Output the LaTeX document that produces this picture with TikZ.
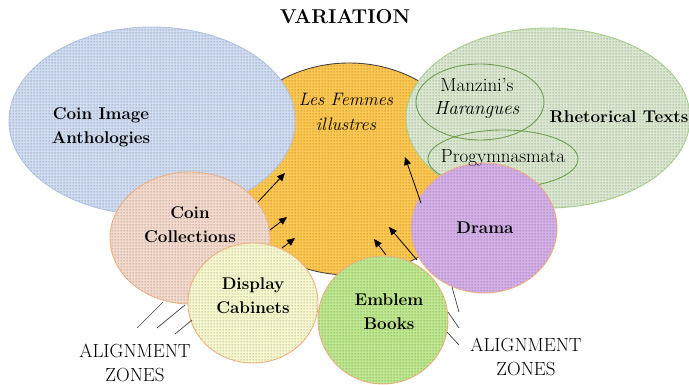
\documentclass[tikz,border=0pt]{standalone}
\usetikzlibrary{shapes.geometric,arrows.meta,patterns.meta}

% fine halftone screen laid over every bubble
\tikzdeclarepattern{
  name=halftone,
  type=uncolored,
  bottom left={(0pt,0pt)},
  top right={(3pt,3pt)},
  tile size={(3pt,3pt)},
  code={\fill (0.7pt,0.7pt) rectangle (2.1pt,2.1pt);}
}

\definecolor{blueF}{RGB}{208,220,242}
\definecolor{blueE}{RGB}{180,199,231}
\definecolor{orangeF}{RGB}{255,200,80}
\definecolor{greenF}{RGB}{218,232,208}
\definecolor{greenE}{RGB}{169,209,142}
\definecolor{innerE}{RGB}{112,160,80}
\definecolor{salmonF}{RGB}{244,218,204}
\definecolor{peachE}{RGB}{244,177,131}
\definecolor{creamF}{RGB}{248,248,206}
\definecolor{limeF}{RGB}{190,232,142}
\definecolor{lilacF}{RGB}{212,176,232}

\tikzset{
  bubble/.style 2 args={ellipse, inner sep=0pt, fill=#1, draw=#2, line width=0.9pt,
    postaction={pattern=halftone, pattern color=#1!68!black}},
  ring/.style={ellipse, inner sep=0pt, draw=innerE, line width=0.9pt},
  boldlbl/.style={align=center, font=\bfseries\fontsize{17}{24}\selectfont},
  plainlbl/.style={align=center, font=\fontsize{19}{24}\selectfont},
  feed/.style={-{Triangle[length=8pt,width=7pt]}, line width=0.8pt},
  tick/.style={line width=0.7pt, draw=black!75}
}

\begin{document}
\begin{tikzpicture}[x=1pt,y=-1pt]
\useasboundingbox (0,0) rectangle (689,385);

% central theme and the surrounding sources
\node[bubble={orangeF}{black!75}, minimum width=250pt, minimum height=212pt] (femmes) at (349,169) {};
\node[bubble={blueF}{blueE}, minimum width=286pt, minimum height=188pt] (anth) at (152,121) {};
\node[bubble={greenF}{greenE}, minimum width=284pt, minimum height=180pt] (rhet) at (548,118) {};
\node[ring, minimum width=128pt, minimum height=76pt] (manz) at (480,102) {};
\node[ring, minimum width=150pt, minimum height=58pt] (prog) at (503,159) {};
\node[bubble={salmonF}{peachE}, minimum width=160pt, minimum height=132pt] (coins) at (190,238) {};
\node[bubble={creamF}{peachE}, minimum width=130pt, minimum height=120pt] (cab) at (253,303) {};
\node[bubble={lilacF}{peachE}, minimum width=146pt, minimum height=130pt] (drama) at (484,228) {};
\node[bubble={limeF}{peachE}, minimum width=130pt, minimum height=128pt] (emb) at (383,320) {};

% labels
\node[font=\bfseries\fontsize{20}{24}\selectfont] (title) at (345,17) {VARIATION};
\node[boldlbl] (anthT) at (101,127) {Coin Image\\Anthologies};
\node[align=center, font=\itshape\fontsize{18}{25}\selectfont] (femmesT) at (346,112) {Les Femmes\\illustres};
\node[align=center, font=\fontsize{19}{23}\selectfont] (manzT) at (477,98) {Manzini's\\\textit{Harangues}};
\node[boldlbl] (rhetT) at (619,117) {Rhetorical Texts};
\node[plainlbl] (progT) at (503,158) {Progymnasmata};
\node[boldlbl] (coinsT) at (190,225) {Coin\\Collections};
\node[boldlbl] (cabT) at (253,296) {Display\\Cabinets};
\node[boldlbl] (dramaT) at (485,228) {Drama};
\node[boldlbl] (embT) at (389,312) {Emblem\\Books};
\node[plainlbl] (alignL) at (135,363) {ALIGNMENT\\ZONES};
\node[plainlbl] (alignR) at (526,357) {ALIGNMENT\\ZONES};

% arrow ends
\coordinate (a1s) at (258,202); \coordinate (a1e) at (285,173);
\coordinate (a2s) at (270,230); \coordinate (a2e) at (287,217);
\coordinate (a3s) at (282,248); \coordinate (a3e) at (295,238);
\coordinate (a4s) at (421,203); \coordinate (a4e) at (405,157);
\coordinate (a5s) at (417,260); \coordinate (a5e) at (389,227);
\coordinate (a6s) at (386,255); \coordinate (a6e) at (374,239);

\draw[feed] (a1s) -- (a1e);
\draw[feed] (a2s) -- (a2e);
\draw[feed] (a3s) -- (a3e);
\draw[feed] (a4s) -- (a4e);
\draw[feed] (a5s) -- (a5e);
\draw[feed] (a6s) -- (a6e);

% alignment zone hatching
\coordinate (l1a) at (137,328); \coordinate (l1b) at (163,302);
\coordinate (l2a) at (157,328); \coordinate (l2b) at (185,305);
\coordinate (l3a) at (175,334); \coordinate (l3b) at (192,320);
\coordinate (r1a) at (452,287); \coordinate (r1b) at (459,312);
\coordinate (r2a) at (448,312); \coordinate (r2b) at (459,328);
\coordinate (r3a) at (447,332); \coordinate (r3b) at (459,345);

\draw[tick] (l1a) -- (l1b);
\draw[tick] (l2a) -- (l2b);
\draw[tick] (l3a) -- (l3b);
\draw[tick] (r1a) -- (r1b);
\draw[tick] (r2a) -- (r2b);
\draw[tick] (r3a) -- (r3b);
\end{tikzpicture}
\end{document}
